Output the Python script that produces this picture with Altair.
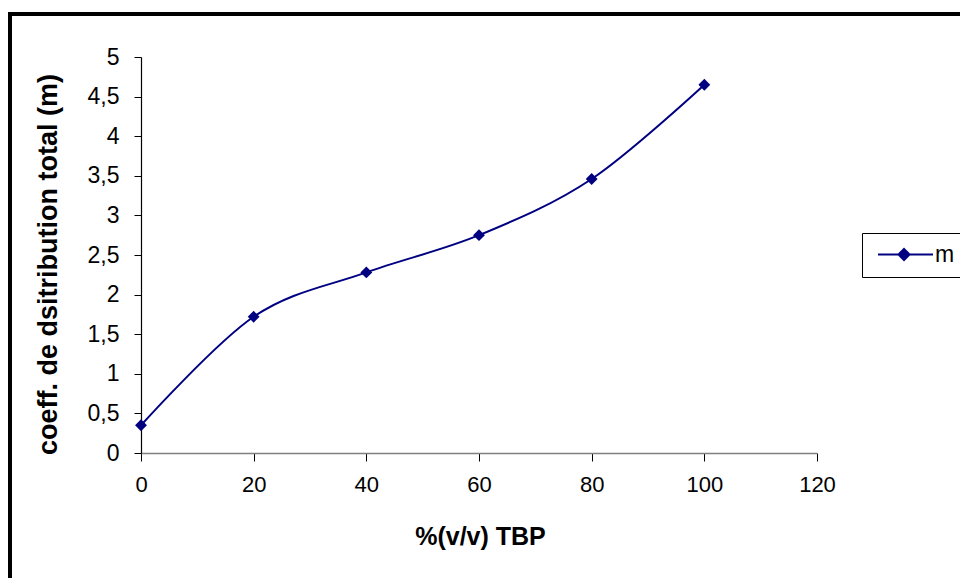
import altair as alt
import pandas as pd

# data
tbp_pct = [0, 20, 40, 60, 80, 100]
m_values = [0.35, 1.72, 2.28, 2.75, 3.46, 4.65]
series_name = ["m"] * len(tbp_pct)

x_ticks = [0, 20, 40, 60, 80, 100, 120]
y_ticks = [0.0, 0.5, 1.0, 1.5, 2.0, 2.5, 3.0, 3.5, 4.0, 4.5, 5.0]

df = pd.DataFrame({"x": tbp_pct, "m": m_values, "serie": series_name})

NAVY = "#000080"
FONT = "Liberation Sans"

x_enc = alt.X(
    "x:Q",
    scale=alt.Scale(domain=[0, 120], nice=False),
    axis=alt.Axis(
        values=x_ticks,
        title="%(v/v) TBP",
        titleFont=FONT, titleFontSize=25, titleFontWeight="bold", titleColor="black",
        titleX=339, titleY=83, titleBaseline="middle", titleAnchor="middle",
        labelFont=FONT, labelFontSize=22, labelColor="black", labelPadding=13,
        labelOverlap=False,
        tickSize=8, tickColor="black", domainColor="#808080", domainWidth=1.5,
        grid=False, labelFlush=False,
    ),
)
y_enc = alt.Y(
    "m:Q",
    scale=alt.Scale(domain=[0, 5], nice=False),
    axis=alt.Axis(
        values=y_ticks,
        labelExpr="replace(format(datum.value, '~g'), '.', ',')",
        title="coeff. de dsitribution total (m)",
        titleFont=FONT, titleFontSize=27, titleFontWeight="bold", titleColor="black",
        titleX=-93, titleY=207, titleBaseline="middle", titleAngle=270,
        labelFont=FONT, labelFontSize=23, labelColor="black", labelPadding=15,
        labelOverlap=False,
        tickSize=7, tickColor="black", domainColor="black", domainWidth=1.2,
        grid=False, labelFlush=False,
    ),
)

color_scale = alt.Scale(domain=["m"], range=[NAVY])

base = alt.Chart(df).encode(x=x_enc, y=y_enc)

line = base.mark_line(interpolate="cardinal", strokeWidth=2).encode(
    color=alt.Color(
        "serie:N",
        scale=color_scale,
        legend=alt.Legend(
            title=None,
            orient="none",
            legendX=721,
            legendY=176,
            symbolType="M-1,0L9,0M3.73,-1L4.73,0L3.73,1L2.73,0Z",
            symbolSize=121,
            symbolStrokeWidth=2,
            symbolFillColor=NAVY,
            symbolStrokeColor=NAVY,
            labelFont=FONT,
            labelFontSize=23,
            labelColor="black",
            labelOffset=40,
            padding=10,
            strokeColor="black",
            fillColor="white",
        ),
    ),
)

points = base.mark_point(shape="diamond", filled=True, size=140, opacity=1, color=NAVY)

border_df = pd.DataFrame({"b": [1]})
border = alt.Chart(border_df).mark_rect(filled=False, stroke="black", strokeWidth=4).encode(
    x=alt.value(-131), x2=alt.value(829), y=alt.value(-43), y2=alt.value(531)
)

chart = (
    alt.layer(line, points, border)
    .properties(
        width=676,
        height=396,
        autosize=alt.AutoSizeParams(type="none"),
        padding={"left": 141, "top": 57, "right": 143, "bottom": 125},
        background="white",
    )
    .configure_view(stroke=None)
)

chart.save("out.html", embed_options={"renderer": "svg", "actions": False})
